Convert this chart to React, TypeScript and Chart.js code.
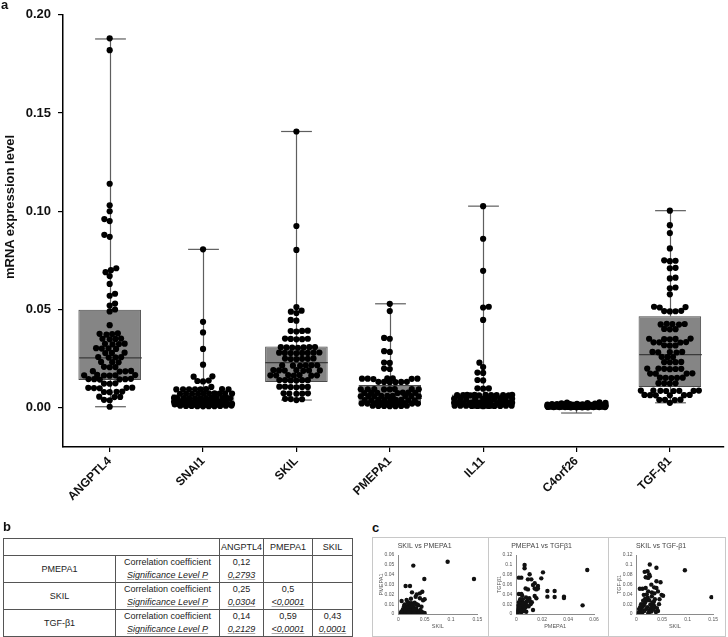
import React, { useEffect, useRef } from 'react';
import { Chart, registerables } from 'chart.js';
Chart.register(...registerables);

const FONT = "'Liberation Sans', Arial, Helvetica, sans-serif";

// ---------- Panel a: box plots ----------
const GENES = ['ANGPTL4', 'SNAI1', 'SKIL', 'PMEPA1', 'IL11', 'C4orf26', 'TGF-β1'];
const Y_TICKS = [0, 0.05, 0.1, 0.15, 0.2];

const BOX_Q1 = [0.0141, 0.0005, 0.0131, 0.0012, 0.0005, 0.0004, 0.0106];
const BOX_MEDIAN = [0.0254, 0.0022, 0.0229, 0.0047, 0.003, 0.0009, 0.027];
const BOX_Q3 = [0.0499, 0.0069, 0.0311, 0.0116, 0.0067, 0.0015, 0.0465];
const WHISKER_MIN = [0.0005, 0.0003, 0.0039, 0.0005, 0.0003, -0.0027, 0.0025];
const WHISKER_MAX = [0.1877, 0.0806, 0.1406, 0.0529, 0.1026, 0.0027, 0.1003];

const ANGPTL4 = [0.188, 0.182, 0.114, 0.103, 0.1, 0.096, 0.095, 0.088, 0.087, 0.071, 0.07, 0.069, 0.067, 0.063, 0.058, 0.057, 0.053, 0.052, 0.05, 0.049,
  0.042, 0.0378, 0.0375, 0.0372, 0.0376, 0.0352, 0.035, 0.0348, 0.0351, 0.0326, 0.0324, 0.0322, 0.0325, 0.0303, 0.0301, 0.0302, 0.0299,
  0.028, 0.0278, 0.0279, 0.0258, 0.0256, 0.0257, 0.0255, 0.0233, 0.0231, 0.0232, 0.0208, 0.0206, 0.0207, 0.0186, 0.0184, 0.0185, 0.0187,
  0.0166, 0.0164, 0.0165, 0.0167, 0.0163, 0.0165, 0.0146, 0.0144, 0.0145, 0.0147, 0.0143, 0.0145, 0.0124, 0.0122, 0.0123,
  0.0102, 0.01, 0.0101, 0.0099, 0.0101, 0.0082, 0.008, 0.0081, 0.0079, 0.0056, 0.0054, 0.0055, 0.004, 0.0038, 0.0005];
const SNAI1 = [0.0806, 0.0437, 0.0383, 0.0299, 0.0219, 0.016, 0.0158, 0.0138, 0.0136, 0.0134, 0.0106,
  0.0095, 0.0094, 0.0093, 0.0094, 0.0095, 0.0093, 0.0094, 0.0094,
  0.0073, 0.0072, 0.0071, 0.0072, 0.0073, 0.0071, 0.0072, 0.0072, 0.0073, 0.0071,
  0.005, 0.0049, 0.0048, 0.0049, 0.005, 0.0048, 0.0049, 0.0049, 0.005, 0.0048, 0.0049, 0.0049,
  0.0031, 0.003, 0.0029, 0.003, 0.0031, 0.0029, 0.003, 0.0028, 0.0032, 0.003,
  0.002, 0.0019, 0.0018, 0.0017, 0.0019, 0.0018, 0.002, 0.0017, 0.0018, 0.0019, 0.0018, 0.0017,
  0.0011, 0.001, 0.0009, 0.0008, 0.0009, 0.001, 0.0008, 0.0007, 0.0009, 0.0008];
const SKIL = [0.1406, 0.0925, 0.0803, 0.0512, 0.0494, 0.0489, 0.0482, 0.0447, 0.0443,
  0.0392, 0.039, 0.0388, 0.0391, 0.0352, 0.035, 0.0349, 0.0351, 0.0348,
  0.0308, 0.0307, 0.0306, 0.0309, 0.0305, 0.0307, 0.0308, 0.028, 0.0279, 0.0278, 0.0281, 0.0279, 0.0277, 0.028, 0.0279,
  0.025, 0.0249, 0.0248, 0.0251, 0.0249, 0.0247, 0.0216, 0.0215, 0.0214, 0.0216, 0.0215, 0.0213,
  0.0191, 0.019, 0.0189, 0.0192, 0.019, 0.0188, 0.019, 0.0166, 0.0165, 0.0164, 0.0166, 0.0165, 0.0163, 0.0165,
  0.0141, 0.014, 0.0139, 0.0141, 0.014, 0.0138, 0.0107, 0.0106, 0.0105, 0.0107, 0.0106, 0.0104,
  0.0073, 0.0072, 0.0071, 0.0073, 0.0072, 0.0045, 0.0044, 0.0043, 0.0039];
const PMEPA1 = [0.0529, 0.0492, 0.0355, 0.0351, 0.0288, 0.0284, 0.023, 0.0228, 0.0199, 0.0197,
  0.0149, 0.0148, 0.0147, 0.0149, 0.0148, 0.0146, 0.0148, 0.0132, 0.0131, 0.013, 0.0132, 0.0131, 0.013,
  0.0095, 0.0094, 0.0093, 0.0095, 0.0094, 0.0093, 0.0094, 0.0095, 0.0077, 0.0076, 0.0075, 0.0077, 0.0076, 0.0075, 0.0076,
  0.006, 0.0059, 0.0058, 0.006, 0.0059, 0.0058, 0.0059, 0.006, 0.0058, 0.004, 0.0039, 0.0038, 0.004, 0.0039, 0.0038, 0.0039, 0.004, 0.0038,
  0.0023, 0.0022, 0.0021, 0.0023, 0.0022, 0.0021, 0.0022, 0.0023, 0.0021, 0.0022, 0.001, 0.0009, 0.0008, 0.001, 0.0009, 0.0008, 0.0009];
const IL11 = [0.1026, 0.086, 0.0697, 0.0514, 0.051, 0.0447, 0.0229, 0.0207, 0.0179, 0.0177, 0.0141, 0.0139, 0.0099, 0.0098, 0.0097,
  0.0065, 0.0064, 0.0063, 0.0065, 0.0064, 0.0063, 0.0064, 0.0065, 0.0063, 0.0064, 0.0065, 0.0064,
  0.0046, 0.0045, 0.0044, 0.0046, 0.0045, 0.0044, 0.0045, 0.0046, 0.0044, 0.0045,
  0.0026, 0.0025, 0.0024, 0.0026, 0.0025, 0.0024, 0.0025, 0.0026, 0.0024, 0.0025, 0.0026, 0.0024, 0.0025, 0.0026, 0.0024,
  0.0011, 0.001, 0.0009, 0.0011, 0.001, 0.0009, 0.001, 0.0011, 0.0009, 0.001, 0.0011, 0.0009, 0.001, 0.0008, 0.0009];
const C4ORF26 = [0.0027, 0.0026, 0.0025, 0.0023, 0.0022, 0.0021, 0.002, 0.0019, 0.0018, 0.0018, 0.0017, 0.0016, 0.0016, 0.0015, 0.0015,
  0.0014, 0.0014, 0.0013, 0.0013, 0.0013, 0.0012, 0.0012, 0.0012, 0.0011, 0.0011, 0.0011, 0.001, 0.001, 0.001, 0.001,
  0.0009, 0.0009, 0.0009, 0.0009, 0.0008, 0.0008, 0.0008, 0.0008, 0.0008, 0.0007, 0.0007, 0.0007, 0.0007, 0.0007,
  0.0006, 0.0006, 0.0006, 0.0006, 0.0006, 0.0005, 0.0005, 0.0005, 0.0005, 0.0005, 0.0005, 0.0004, 0.0004, 0.0004, 0.0004, 0.0004,
  0.0003, 0.0003, 0.0003, 0.0003, 0.0003, 0.0003, 0.0002, 0.0002, 0.0002, 0.0002];
const TGFB1 = [0.1003, 0.0929, 0.0889, 0.0811, 0.075, 0.0748, 0.0746, 0.0712, 0.071, 0.0662, 0.0658, 0.0612, 0.0608, 0.0577,
  0.0514, 0.0512, 0.051, 0.0493, 0.0492, 0.049, 0.0491, 0.0427, 0.0425, 0.0424, 0.0426, 0.0423, 0.0401, 0.04, 0.0399,
  0.0352, 0.035, 0.0349, 0.0351, 0.0348, 0.0334, 0.0333, 0.0332, 0.0333, 0.0318, 0.0317, 0.0316,
  0.0284, 0.0283, 0.0282, 0.0284, 0.0281, 0.0259, 0.0258, 0.0257, 0.0233, 0.0232, 0.0231, 0.0232,
  0.0199, 0.0198, 0.0197, 0.0199, 0.0198, 0.0196, 0.0175, 0.0174, 0.0173, 0.0174, 0.0153, 0.0152, 0.0151, 0.0153, 0.0152,
  0.0125, 0.0124, 0.0123, 0.0124, 0.0087, 0.0086, 0.0085, 0.0087, 0.0086, 0.0085, 0.0086, 0.0087,
  0.0065, 0.0064, 0.0063, 0.0065, 0.0064, 0.0063, 0.0041, 0.004, 0.0039, 0.004, 0.0025];
const GENE_VALUES = [ANGPTL4, SNAI1, SKIL, PMEPA1, IL11, C4ORF26, TGFB1];

// ---------- Panel b: correlation table ----------
const CORR_ROWS = ['PMEPA1', 'SKIL', 'TGF-β1'];
const CORR_COLS = ['ANGPTL4', 'PMEPA1', 'SKIL'];
const CORR_COEF = [['0,12', '', ''], ['0,25', '0,5', ''], ['0,14', '0,59', '0,43']];
const CORR_P = [['0,2793', '', ''], ['0,0304', '<0,0001', ''], ['0,2129', '<0,0001', '0,0001']];

// ---------- Panel c: scatter plots ----------
const SKIL_VS_PMEPA1_X = [0.0285, 0.0937, 0.0494, 0.1437, 0.0139, 0.0222, 0.0456, 0.026, 0.035, 0.041, 0.0063, 0.0158, 0.033, 0.041, 0.047, 0.05,
  0.012, 0.021, 0.027, 0.038, 0.044, 0.005, 0.008, 0.01, 0.012, 0.014, 0.016, 0.018, 0.02, 0.022, 0.024, 0.026, 0.028, 0.03, 0.032,
  0.034, 0.036, 0.038, 0.04, 0.015, 0.019, 0.023, 0.025, 0.029, 0.031, 0.009, 0.011, 0.013, 0.017, 0.021, 0.027, 0.033, 0.006,
  0.02, 0.03, 0.045, 0.05, 0.042, 0.035, 0.018, 0.024];
const SKIL_VS_PMEPA1_Y = [0.0492, 0.0532, 0.0356, 0.0356, 0.0285, 0.0285, 0.0227, 0.022, 0.02, 0.021, 0.0132, 0.0142, 0.0176, 0.016, 0.014, 0.015,
  0.0098, 0.011, 0.009, 0.009, 0.0075, 0.001, 0.002, 0.0005, 0.003, 0.001, 0.004, 0.002, 0.006, 0.001, 0.003, 0.005, 0.002, 0.004, 0.001,
  0.006, 0.003, 0.002, 0.001, 0.007, 0.009, 0.008, 0.011, 0.007, 0.0115, 0.005, 0.008, 0.0045, 0.0065, 0.0035, 0.0085, 0.0045, 0.0025,
  0.0015, 0.0005, 0.002, 0.001, 0.004, 0.01, 0.012, 0.0155];
const PMEPA1_VS_TGFB1_X = [0.0548, 0.0512, 0.0064, 0.0064, 0.0206, 0.002, 0.0039, 0.0103, 0.009, 0.0116, 0.0193, 0.0129, 0.0142, 0.0167, 0.0142,
  0.0072, 0.009, 0.0155, 0.0167, 0.024, 0.0296, 0.024, 0.0296, 0.0368, 0.0368, 0.002, 0.0039, 0.0142, 0.0155, 0.0129, 0.0077,
  0.001, 0.002, 0.003, 0.004, 0.005, 0.006, 0.007, 0.008, 0.009, 0.01, 0.001, 0.002, 0.003, 0.004, 0.005, 0.006, 0.007, 0.008,
  0.002, 0.003, 0.011, 0.012, 0.004, 0.006, 0.0015, 0.0025, 0.0055, 0.0095, 0.0105, 0.0035, 0.0005, 0.0075, 0.0045];
const PMEPA1_VS_TGFB1_Y = [0.0895, 0.0176, 0.0997, 0.0929, 0.0847, 0.0739, 0.0739, 0.0807, 0.0705, 0.0705, 0.0725, 0.059, 0.0624, 0.057, 0.052,
  0.052, 0.05, 0.05, 0.052, 0.0468, 0.0468, 0.0353, 0.0346, 0.0353, 0.0325, 0.0407, 0.0407, 0.0366, 0.0319, 0.0081, 0.0047,
  0.002, 0.005, 0.008, 0.012, 0.015, 0.018, 0.022, 0.025, 0.028, 0.032, 0.01, 0.014, 0.02, 0.025, 0.03, 0.01, 0.013, 0.017,
  0.024, 0.03, 0.02, 0.024, 0.004, 0.006, 0.0175, 0.0115, 0.0225, 0.0155, 0.0265, 0.0065, 0.0045, 0.0335, 0.0375];
const SKIL_VS_TGFB1_X = [0.0946, 0.1467, 0.026, 0.039, 0.016, 0.0215, 0.0248, 0.026, 0.018, 0.0228, 0.039, 0.047, 0.0065, 0.0117, 0.018, 0.029,
  0.0346, 0.039, 0.042, 0.049, 0.052, 0.0228, 0.0143, 0.004, 0.006, 0.008, 0.01, 0.012, 0.014, 0.016, 0.018, 0.02, 0.022, 0.024, 0.026,
  0.028, 0.03, 0.032, 0.034, 0.036, 0.038, 0.015, 0.019, 0.021, 0.027, 0.031, 0.025, 0.017, 0.013, 0.009, 0.007, 0.011, 0.023, 0.029,
  0.033, 0.035, 0.04, 0.044, 0.02, 0.03, 0.045, 0.042, 0.005, 0.03, 0.035];
const SKIL_VS_TGFB1_Y = [0.0891, 0.0343, 0.1008, 0.094, 0.0857, 0.0871, 0.0802, 0.0768, 0.0747, 0.0734, 0.0665, 0.0645, 0.0514, 0.0514, 0.0528, 0.0597,
  0.0542, 0.053, 0.046, 0.039, 0.037, 0.046, 0.039, 0.002, 0.005, 0.008, 0.012, 0.015, 0.018, 0.022, 0.026, 0.03, 0.033, 0.003, 0.007,
  0.011, 0.015, 0.02, 0.025, 0.03, 0.004, 0.006, 0.01, 0.014, 0.019, 0.023, 0.028, 0.031, 0.027, 0.02, 0.014, 0.003, 0.001, 0.005,
  0.009, 0.016, 0.012, 0.02, 0.04, 0.036, 0.03, 0.006, 0.01, 0.044, 0.042];
const SKIL_TICKS = [0, 0.05, 0.1, 0.15];
const PMEPA1_TICKS_Y = [0, 0.01, 0.02, 0.03, 0.04, 0.05, 0.06];
const PMEPA1_TICKS_X = [0, 0.02, 0.04, 0.06];
const TGFB1_TICKS = [0, 0.02, 0.04, 0.06, 0.08, 0.1, 0.12];

// style constants
const BOX_WIDTH = 0.67;
const CAP_WIDTH = 0.33;
const SWARM_D = 5.7;
const SWARM_HALF_WIDTH = 29;

function beeswarm(py: number[], D: number, W: number): number[] {
  const order = py.map((_, i) => i).sort((a, b) => py[b] - py[a]);
  const placed: { x: number; y: number }[] = [];
  const out = new Array(py.length).fill(0);
  order.forEach((idx, n) => {
    const y = py[idx];
    const near = placed.filter((p) => Math.abs(p.y - y) < D);
    const ivs = near.map((p) => {
      const h = Math.sqrt(D * D - (p.y - y) * (p.y - y));
      return [p.x - h, p.x + h];
    });
    const cands = [0];
    ivs.forEach(([a, b]) => cands.push(a, b));
    const bias = n % 2 === 0 ? 1e-4 : -1e-4;
    const key = (c: number) => Math.abs(c) + (c > 0 ? bias : c < 0 ? -bias : 0);
    cands.sort((a, b) => key(a) - key(b));
    let x: number | null = null;
    for (const c of cands) {
      if (Math.abs(c) > W) continue;
      if (ivs.every(([a, b]) => c <= a + 1e-6 || c >= b - 1e-6)) { x = c; break; }
    }
    if (x === null) {
      let best = 0, bestCost = Infinity;
      for (let c = -W; c <= W; c += 0.5) {
        let cost = 0;
        near.forEach((p) => { const d = Math.hypot(p.x - c, p.y - y); cost += Math.max(0, D - d) ** 2; });
        if (cost < bestCost - 1e-9) { bestCost = cost; best = c; }
      }
      x = best;
    }
    placed.push({ x, y });
    out[idx] = x;
  });
  return out;
}

function MainChart() {
  const ref = useRef<HTMLCanvasElement>(null);
  useEffect(() => {
    const boxPlugin = {
      id: 'boxWhiskers',
      afterDatasetDraw(chart: any, args: any) {
        if (args.index !== 0) return;
        const { ctx } = chart;
        const xs = chart.scales.x, ys = chart.scales.y;
        const unit = xs.getPixelForValue(2) - xs.getPixelForValue(1);
        const seg = (x1: number, y1: number, x2: number, y2: number) => {
          ctx.beginPath(); ctx.moveTo(x1, y1); ctx.lineTo(x2, y2); ctx.stroke();
        };
        ctx.save();
        GENES.forEach((_, i) => {
          const cx = Math.round(xs.getPixelForValue(i + 1)) + 0.5;
          const cap = unit * CAP_WIDTH / 2;
          const bw = unit * BOX_WIDTH / 2;
          const yMax = ys.getPixelForValue(WHISKER_MAX[i]);
          const yMin = ys.getPixelForValue(WHISKER_MIN[i]);
          const yQ1 = ys.getPixelForValue(BOX_Q1[i]);
          const yQ3 = ys.getPixelForValue(BOX_Q3[i]);
          const yMed = ys.getPixelForValue(BOX_MEDIAN[i]);
          ctx.strokeStyle = '#5e5e5e';
          ctx.lineWidth = 1.2;
          seg(cx, yMax, cx, yQ3);
          seg(cx, yQ1, cx, yMin);
          seg(cx - cap, yMax, cx + cap, yMax);
          seg(cx - cap, yMin, cx + cap, yMin);
          ctx.strokeStyle = '#3a3a3a';
          seg(cx - bw, yMed, cx + bw, yMed);
        });
        ctx.restore();
      },
    };

    const chart = new Chart(ref.current as HTMLCanvasElement, {
      type: 'bar',
      data: {
        datasets: [
          {
            type: 'bar',
            data: GENES.map((_, i) => ({ x: i + 1, y: [BOX_Q1[i], BOX_Q3[i]] })) as any,
            backgroundColor: '#858585',
            borderColor: '#4a4a4a',
            borderWidth: 1,
            borderSkipped: false,
            barPercentage: BOX_WIDTH,
            categoryPercentage: 1,
            order: 2,
          },
          {
            type: 'scatter',
            data: GENE_VALUES.flatMap((vals, gi) => vals.map((v) => ({ x: gi + 1, y: v }))) as any,
            pointRadius: 3.1,
            pointBackgroundColor: '#000',
            pointBorderWidth: 0,
            showLine: false,
            order: 1,
          },
        ] as any,
      },
      options: {
        animation: false,
        responsive: false,
        devicePixelRatio: 1,
        events: [],
        layout: { padding: { top: 11, right: 1, left: 0, bottom: 0 } },
        plugins: { legend: { display: false }, tooltip: { enabled: false } },
        scales: {
          x: {
            type: 'linear',
            min: 0.5,
            max: 7.58,
            offset: false,
            grid: { display: true, drawOnChartArea: false, drawTicks: true, tickLength: 5, color: '#000', lineWidth: 1.2, offset: false },
            border: { display: true, color: '#000', width: 1.5 },
            afterBuildTicks: (axis: any) => { axis.ticks = GENES.map((_, i) => ({ value: i + 1 })); },
            afterFit: (s: any) => { s.height = 58; },
            ticks: {
              autoSkip: false,
              minRotation: 45,
              maxRotation: 45,
              padding: 2,
              color: '#111',
              font: { family: FONT, size: 12, weight: 'bold' },
              callback: (v: any) => GENES[Math.round(v) - 1] ?? '',
            },
          },
          y: {
            type: 'linear',
            min: -0.02,
            max: 0.2,
            grid: { display: true, drawOnChartArea: false, drawTicks: true, tickLength: 5, color: '#000', lineWidth: 1.2 },
            border: { display: true, color: '#000', width: 1.5 },
            afterBuildTicks: (axis: any) => { axis.ticks = Y_TICKS.map((v) => ({ value: v })); },
            afterFit: (s: any) => { s.width = 63; },
            ticks: {
              padding: 7,
              color: '#111',
              font: { family: FONT, size: 13, weight: 'bold' },
              callback: (v: any) => Number(v).toFixed(2),
            },
          },
        },
      } as any,
      plugins: [boxPlugin],
    });

    // lay the dots out as a beeswarm using the chart's own scales
    const xs: any = chart.scales.x, ys: any = chart.scales.y;
    const unit = xs.getPixelForValue(2) - xs.getPixelForValue(1);
    const pts: any[] = [];
    GENE_VALUES.forEach((vals, gi) => {
      const offs = beeswarm(vals.map((v) => ys.getPixelForValue(v)), SWARM_D, SWARM_HALF_WIDTH);
      vals.forEach((v, k) => pts.push({ x: gi + 1 + offs[k] / unit, y: v }));
    });
    (chart.data.datasets[1] as any).data = pts;
    chart.update('none');

    return () => chart.destroy();
  }, []);
  return <canvas ref={ref} width={728} height={505} style={{ position: 'absolute', left: 0, top: 0, width: 728, height: 505 }} />;
}

function fmtTick(v: number) {
  return v === 0 ? '0' : String(parseFloat(Number(v).toFixed(2)));
}

function ScatterPanel(props: any) {
  const ref = useRef<HTMLCanvasElement>(null);
  const { left, width, title, xTitle, yTitle, xs, ys, xTicks, yTicks, yAxisWidth, rightPad, yTitlePad } = props;
  useEffect(() => {
    const chart = new Chart(ref.current as HTMLCanvasElement, {
      type: 'scatter',
      data: {
        datasets: [{
          data: xs.map((x: number, i: number) => ({ x, y: ys[i] })),
          pointRadius: 2.2,
          pointBackgroundColor: '#111',
          pointBorderWidth: 0,
        }],
      },
      options: {
        animation: false,
        responsive: false,
        devicePixelRatio: 1,
        events: [],
        layout: { padding: { top: 0, right: rightPad, left: 0, bottom: 0 } },
        plugins: {
          legend: { display: false },
          tooltip: { enabled: false },
          title: { display: true, text: title, color: '#444', font: { family: FONT, size: 7, weight: 'normal' }, padding: { top: 4.5, bottom: 5.1 } },
        },
        scales: {
          x: {
            type: 'linear',
            min: 0,
            max: xTicks[xTicks.length - 1],
            grid: { display: false, drawTicks: false },
            border: { display: true, color: '#8a8a8a', width: 1 },
            afterBuildTicks: (axis: any) => { axis.ticks = xTicks.map((v: number) => ({ value: v })); },
            afterFit: (s: any) => { s.height = 21; },
            ticks: { padding: 3, color: '#555', font: { family: FONT, size: 5 }, callback: (v: any) => fmtTick(v), maxRotation: 0, autoSkip: false },
            title: { display: true, text: xTitle, color: '#555', font: { family: FONT, size: 5.5 }, padding: { top: 0, bottom: 5.7 } },
          },
          y: {
            type: 'linear',
            min: 0,
            max: yTicks[yTicks.length - 1],
            grid: { display: false, drawTicks: false },
            border: { display: true, color: '#8a8a8a', width: 1 },
            afterBuildTicks: (axis: any) => { axis.ticks = yTicks.map((v: number) => ({ value: v })); },
            afterFit: (s: any) => { s.width = yAxisWidth; },
            ticks: { padding: 4, color: '#555', font: { family: FONT, size: 5 }, callback: (v: any) => fmtTick(v), autoSkip: false },
            title: { display: true, text: yTitle, color: '#555', font: { family: FONT, size: 5.5 }, padding: { top: yTitlePad, bottom: 0 } },
          },
        },
      } as any,
    });
    return () => chart.destroy();
  }, []);
  return <canvas ref={ref} width={width} height={98} style={{ position: 'absolute', left, top: 537, width, height: 98 }} />;
}

function CorrelationTable() {
  const cell: React.CSSProperties = {
    border: '1px solid #555', padding: 0, textAlign: 'center', verticalAlign: 'middle',
    lineHeight: '11px', whiteSpace: 'nowrap', overflow: 'hidden',
  };
  const ital: React.CSSProperties = { fontStyle: 'italic', textDecoration: 'underline', textDecorationColor: '#aaa' };
  return (
    <table style={{ position: 'absolute', left: 3, top: 538, borderCollapse: 'collapse', tableLayout: 'fixed', width: 349, fontFamily: FONT, fontSize: 9, color: '#222' }}>
      <colgroup>
        {[112, 104, 44, 49, 40].map((w, i) => <col key={i} style={{ width: w }} />)}
      </colgroup>
      <tbody>
        <tr style={{ height: 17 }}>
          <td colSpan={2} style={cell}></td>
          {CORR_COLS.map((c) => <td key={c} style={cell}>{c}</td>)}
        </tr>
        {CORR_ROWS.map((r, i) => (
          <React.Fragment key={r}>
            <tr style={{ height: 13.5 }}>
              <td rowSpan={2} style={cell}>{r}</td>
              <td style={{ ...cell, borderBottom: 'none' }}>Correlation coefficient</td>
              {CORR_COEF[i].map((v, j) => <td key={j} style={{ ...cell, borderBottom: 'none' }}>{v}</td>)}
            </tr>
            <tr style={{ height: 13.5 }}>
              <td style={{ ...cell, borderTop: 'none' }}><span style={ital}>Significance Level P</span></td>
              {CORR_P[i].map((v, j) => <td key={j} style={{ ...cell, borderTop: 'none' }}><span style={ital}>{v}</span></td>)}
            </tr>
          </React.Fragment>
        ))}
      </tbody>
    </table>
  );
}

export default function App() {
  const label: React.CSSProperties = { position: 'absolute', fontSize: 13, fontWeight: 'bold', lineHeight: '13px', color: '#111' };
  return (
    <div style={{ position: 'absolute', left: 0, top: 0, width: 728, height: 637, background: '#fff', fontFamily: FONT, overflow: 'hidden' }}>
      <MainChart />
      <div style={{ ...label, left: 1, top: -2.5 }}>a</div>
      <div style={{ position: 'absolute', left: 10 - 100, top: 207 - 8, width: 200, height: 16, lineHeight: '16px', textAlign: 'center', transform: 'rotate(-90deg)', fontSize: 13, fontWeight: 'bold', whiteSpace: 'nowrap', color: '#111' }}>
        mRNA expression level
      </div>
      <div style={{ ...label, left: 3, top: 520 }}>b</div>
      <CorrelationTable />
      <div style={{ ...label, left: 372, top: 521 }}>c</div>
      <div style={{ position: 'absolute', left: 371.5, top: 536.5, width: 352, height: 98, border: '1px solid #c8c8c8' }} />
      <div style={{ position: 'absolute', left: 488, top: 536.5, width: 0, height: 99, borderLeft: '1px solid #c8c8c8' }} />
      <div style={{ position: 'absolute', left: 607.5, top: 536.5, width: 0, height: 99, borderLeft: '1px solid #c8c8c8' }} />
      <ScatterPanel left={372} width={116} title="SKIL vs PMEPA1" xTitle="SKIL" yTitle="PMEPA1"
        xs={SKIL_VS_PMEPA1_X} ys={SKIL_VS_PMEPA1_Y} xTicks={SKIL_TICKS} yTicks={PMEPA1_TICKS_Y}
        yAxisWidth={26.3} rightPad={10.7} yTitlePad={5.7} />
      <ScatterPanel left={489} width={118} title="PMEPA1 vs TGFβ1" xTitle="PMEPA1" yTitle="TGFβ1"
        xs={PMEPA1_VS_TGFB1_X} ys={PMEPA1_VS_TGFB1_Y} xTicks={PMEPA1_TICKS_X} yTicks={TGFB1_TICKS}
        yAxisWidth={27.3} rightPad={13} yTitlePad={7.4} />
      <ScatterPanel left={608.5} width={116} title="SKIL vs TGF-β1" xTitle="SKIL" yTitle="TGF-β1"
        xs={SKIL_VS_TGFB1_X} ys={SKIL_VS_TGFB1_Y} xTicks={SKIL_TICKS} yTicks={TGFB1_TICKS}
        yAxisWidth={27.5} rightPad={11.8} yTitlePad={7.5} />
    </div>
  );
}
